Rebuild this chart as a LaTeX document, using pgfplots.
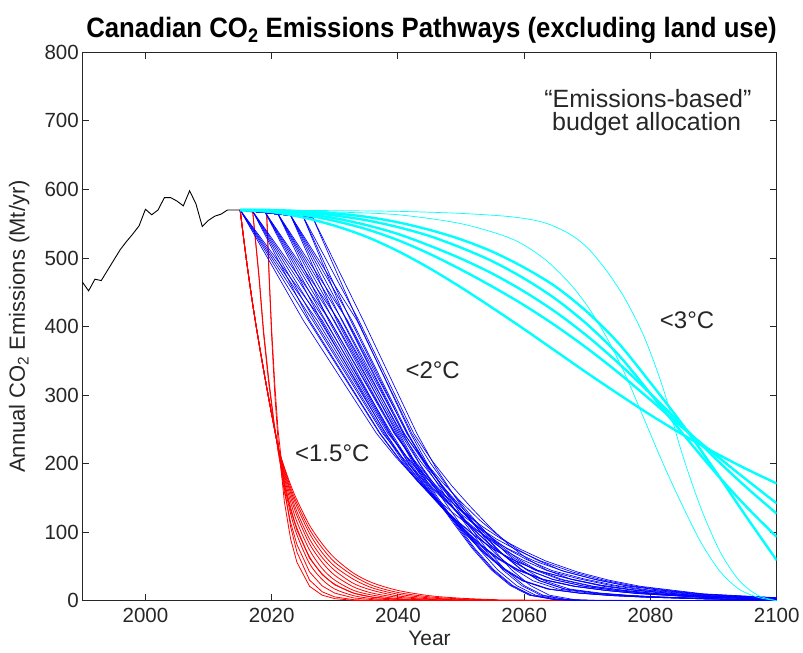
\documentclass[border=0pt]{standalone}
\usepackage{fontspec}
\setmainfont{Liberation Sans}
\usepackage{graphicx}
\usepackage{pgfplots}
\pgfplotsset{compat=1.18}
\definecolor{axgray}{RGB}{38,38,38}
\definecolor{myred}{RGB}{255,0,0}
\definecolor{myblue}{RGB}{0,0,255}
\definecolor{mycyan}{RGB}{0,255,255}
\pgfplotsset{
  rd/.style={myred, line width=0.8pt},
  bl/.style={myblue, line width=0.65pt},
  cyth/.style={mycyan, line width=2.4pt, smooth},
  cytn/.style={mycyan, line width=0.7pt, smooth},
}
\begin{document}
\begin{tikzpicture}
\useasboundingbox (-82.3pt,-52.3pt) rectangle (720.7pt,600.7pt);
\begin{axis}[
  at={(0pt,0pt)}, anchor=south west,
  scale only axis, width=694.4pt, height=548.4pt,
  xmin=1990, xmax=2100, ymin=0, ymax=800,
  xtick={2000,2020,2040,2060,2080,2100},
  ytick={0,100,200,300,400,500,600,700,800},
  scaled x ticks=false, scaled y ticks=false,
  tick align=inside, major tick length=7pt,
  axis line style={axgray, line width=0.9pt},
  every tick/.style={axgray, line width=0.9pt},
  tick label style={font=\fontsize{20.5}{24}\selectfont, text=axgray},
  /pgf/number format/assume math mode=true,
  /pgf/number format/1000 sep={},
  xticklabel style={yshift=-4pt},
  clip=true,
]
% ---------------- red: < 1.5 C ----------------
\addplot[rd, smooth] coordinates {(2015,570) (2016,497) (2017,432) (2018,375) (2019,322) (2020,272) (2021,225) (2022,169) (2023,127) (2024,96) (2026,54) (2028,31) (2030,17) (2033,7.3) (2036,3.1) (2040,1.0) (2045,0.2) (2050,0) (2100,0)};
\addplot[rd, smooth] coordinates {(2015,570) (2016,497) (2017,432) (2018,375) (2019,322) (2020,272) (2021,225) (2022,175) (2023,136) (2024,106) (2026,64) (2028,39) (2030,24) (2033,11) (2036,5.3) (2040,2.0) (2045,0.6) (2050,0.2) (2055,0) (2100,0)};
\addplot[rd, smooth] coordinates {(2015,570) (2016,497) (2017,432) (2018,375) (2019,322) (2020,272) (2021,225) (2022,180) (2023,144) (2024,115) (2026,74) (2028,47) (2030,30) (2033,15) (2036,8.1) (2040,3.1) (2045,1.1) (2050,0.3) (2055,0) (2100,0)};
\addplot[rd, smooth] coordinates {(2015,570) (2016,497) (2017,432) (2018,375) (2019,322) (2020,272) (2021,225) (2022,184) (2023,151) (2024,124) (2026,83) (2028,56) (2030,37) (2033,20) (2036,11) (2040,5) (2045,1.9) (2050,0.7) (2055,0.25) (2060,0) (2100,0)};
\addplot[rd, smooth] coordinates {(2015,570) (2016,497) (2017,432) (2018,375) (2019,322) (2020,272) (2021,225) (2022,187) (2023,157) (2024,130) (2026,90) (2028,63) (2030,44) (2033,25) (2036,15) (2040,7) (2045,2.8) (2050,1.2) (2055,0.5) (2060,0.2) (2100,0)};
\addplot[rd, smooth] coordinates {(2015,570) (2016,497) (2017,432) (2018,375) (2019,322) (2020,272) (2021,225) (2022,190) (2023,161) (2024,137) (2026,98) (2028,70) (2030,50) (2033,31) (2036,18.5) (2040,9.5) (2045,4.1) (2050,1.8) (2055,0.8) (2060,0.3) (2100,0)};
\addplot[rd, smooth] coordinates {(2015,570) (2016,497) (2017,432) (2018,375) (2019,322) (2020,272) (2021,225) (2022,193) (2023,165) (2024,142) (2026,104) (2028,77) (2030,56) (2033,36) (2036,22) (2040,12) (2045,5.6) (2050,2.6) (2055,1.2) (2060,0.55) (2100,0)};
\addplot[rd, smooth] coordinates {(2015,570) (2016,497) (2017,432) (2018,375) (2019,322) (2020,272) (2021,225) (2022,195) (2023,169) (2024,147) (2026,110) (2028,83) (2030,62) (2033,40) (2036,26) (2040,15) (2045,7.3) (2050,3.6) (2055,1.7) (2060,0.8) (2100,0)};
\addplot[rd] coordinates {(2015,570) (2017,567) (2018,470) (2018.7,390) (2019.5,320) (2020.3,262) (2021,222) (2022,159) (2023,114) (2024,82) (2026,42) (2028,21.5) (2030,11) (2033,4) (2036,1.5) (2040,0.4) (2045,0) (2100,0)};
\addplot[rd] coordinates {(2015,570) (2017,567) (2018,474) (2018.7,396) (2019.5,326) (2020.3,266) (2021,218) (2022,170) (2023,132) (2024,103) (2026,62) (2028,38) (2030,23) (2033,11) (2036,5) (2040,2) (2045,0.5) (2050,0) (2100,0)};
\addplot[rd] coordinates {(2015,570) (2019.2,566) (2019.6,470) (2020,385) (2020.5,300) (2021,235) (2022,145) (2023,90) (2024,56) (2026,21) (2028,8) (2030,3) (2033,0.5) (2036,0) (2100,0)};
\addplot[rd] coordinates {(2015,570) (2019.2,566) (2019.6,475) (2020,395) (2020.5,315) (2021,250) (2022,165) (2023,108) (2024,71) (2026,30) (2028,13) (2030,5.5) (2033,1.5) (2036,0.4) (2040,0) (2100,0)};
% ---------------- blue: < 2 C ----------------
\addplot[bl] coordinates {(2015,570) (2025.0,409) (2036.6,244) (2039.6,210) (2042.6,180) (2045.6,153) (2048.6,129) (2051.6,108) (2054.6,90) (2057.6,75) (2061.6,58) (2066.6,42) (2071.6,30) (2076.6,21) (2086.6,10) (2100.6,3.3)};
\addplot[bl] coordinates {(2015,570) (2025.8,409) (2037.1,244) (2040.1,207) (2043.1,174) (2046.1,145) (2049.1,118) (2052.1,95) (2055.1,75) (2058.1,60) (2062.1,44) (2067.1,32) (2072.1,22.5) (2077.1,16) (2087.1,7.5) (2101.1,2.5)};
\addplot[bl] coordinates {(2015,570) (2026.5,409) (2037.6,244) (2040.6,210) (2043.6,180) (2046.6,153) (2049.6,129) (2052.6,108) (2055.6,90) (2058.6,75) (2062.6,58) (2067.6,42) (2072.6,30) (2077.6,21) (2087.6,10) (2101.6,3.3)};
\addplot[bl] coordinates {(2015,570) (2027.2,409) (2038.1,244) (2041.1,203) (2044.1,168) (2047.1,137) (2050.1,108) (2053.1,82) (2056.1,61) (2059.1,45) (2063.1,31) (2068.1,21) (2073.1,15) (2078.1,10.5) (2088.1,5) (2102.1,1.7)};
\addplot[bl] coordinates {(2015,570) (2028.0,409) (2038.6,244) (2041.6,207) (2044.6,174) (2047.6,145) (2050.6,118) (2053.6,95) (2056.6,75) (2059.6,60) (2063.6,44) (2068.6,32) (2073.6,22.5) (2078.6,16) (2088.6,7.5) (2102.6,2.5)};
\addplot[bl] coordinates {(2015,570) (2017,568) (2026.0,409) (2037.2,244) (2040.2,207) (2043.2,174) (2046.2,145) (2049.2,118) (2052.2,95) (2055.2,75) (2058.2,60) (2062.2,44) (2067.2,32) (2072.2,22.5) (2077.2,16) (2087.2,7.5) (2101.2,2.5)};
\addplot[bl] coordinates {(2015,570) (2017,568) (2026.8,409) (2037.8,244) (2040.8,203) (2043.8,168) (2046.8,137) (2049.8,108) (2052.8,82) (2055.8,61) (2058.8,45) (2062.8,31) (2067.8,21) (2072.8,15) (2077.8,10.5) (2087.8,5) (2101.8,1.7)};
\addplot[bl] coordinates {(2015,570) (2017,568) (2027.6,409) (2038.4,244) (2041.4,210) (2044.4,180) (2047.4,153) (2050.4,129) (2053.4,108) (2056.4,90) (2059.4,75) (2063.4,58) (2068.4,42) (2073.4,30) (2078.4,21) (2088.4,10) (2102.4,3.3)};
\addplot[bl] coordinates {(2015,570) (2017,568) (2028.4,409) (2039.0,244) (2042.0,200) (2045.0,162) (2048.0,128) (2051.0,97) (2054.0,69) (2057.0,46) (2060.0,29) (2064.0,17) (2069.0,11) (2074.0,7.5) (2079.0,5.3) (2089.0,2.5) (2103.0,0.8)};
\addplot[bl] coordinates {(2015,570) (2017,568) (2029.2,409) (2039.6,244) (2042.6,203) (2045.6,168) (2048.6,137) (2051.6,108) (2054.6,82) (2057.6,61) (2060.6,45) (2064.6,31) (2069.6,21) (2074.6,15) (2079.6,10.5) (2089.6,5) (2103.6,1.7)};
\addplot[bl] coordinates {(2015,570) (2019,566) (2027.8,409) (2038.0,244) (2041.0,203) (2044.0,168) (2047.0,137) (2050.0,108) (2053.0,82) (2056.0,61) (2059.0,45) (2063.0,31) (2068.0,21) (2073.0,15) (2078.0,10.5) (2088.0,5) (2102.0,1.7)};
\addplot[bl] coordinates {(2015,570) (2019,566) (2028.5,409) (2038.7,244) (2041.7,200) (2044.7,162) (2047.7,128) (2050.7,97) (2053.7,69) (2056.7,46) (2059.7,29) (2063.7,17) (2068.7,11) (2073.7,7.5) (2078.7,5.3) (2088.7,2.5) (2102.7,0.8)};
\addplot[bl] coordinates {(2015,570) (2019,566) (2029.2,409) (2039.4,244) (2042.4,207) (2045.4,174) (2048.4,145) (2051.4,118) (2054.4,95) (2057.4,75) (2060.4,60) (2064.4,44) (2069.4,32) (2074.4,22.5) (2079.4,16) (2089.4,7.5) (2103.4,2.5)};
\addplot[bl] coordinates {(2015,570) (2019,566) (2029.9,409) (2040.0,244) (2043.0,194) (2046.0,152) (2049.0,113) (2052.0,76) (2055.0,45) (2058.0,22) (2061.0,8) (2065.0,1.5) (2070.0,0) (2100,0)};
\addplot[bl] coordinates {(2015,570) (2019,566) (2030.6,409) (2040.6,244) (2043.6,203) (2046.6,168) (2049.6,137) (2052.6,108) (2055.6,82) (2058.6,61) (2061.6,45) (2065.6,31) (2070.6,21) (2075.6,15) (2080.6,10.5) (2090.6,5) (2104.6,1.7)};
\addplot[bl] coordinates {(2015,570) (2021,564) (2029.0,409) (2038.8,244) (2041.8,200) (2044.8,162) (2047.8,128) (2050.8,97) (2053.8,69) (2056.8,46) (2059.8,29) (2063.8,17) (2068.8,11) (2073.8,7.5) (2078.8,5.3) (2088.8,2.5) (2102.8,0.8)};
\addplot[bl] coordinates {(2015,570) (2021,564) (2029.8,409) (2039.5,244) (2042.5,203) (2045.5,168) (2048.5,137) (2051.5,108) (2054.5,82) (2057.5,61) (2060.5,45) (2064.5,31) (2069.5,21) (2074.5,15) (2079.5,10.5) (2089.5,5) (2103.5,1.7)};
\addplot[bl] coordinates {(2015,570) (2021,564) (2030.5,409) (2040.2,244) (2043.2,194) (2046.2,152) (2049.2,113) (2052.2,76) (2055.2,45) (2058.2,22) (2061.2,8) (2065.2,1.5) (2070.2,0) (2100,0)};
\addplot[bl] coordinates {(2015,570) (2021,564) (2031.2,409) (2040.9,244) (2043.9,207) (2046.9,174) (2049.9,145) (2052.9,118) (2055.9,95) (2058.9,75) (2061.9,60) (2065.9,44) (2070.9,32) (2075.9,22.5) (2080.9,16) (2090.9,7.5) (2104.9,2.5)};
\addplot[bl] coordinates {(2015,570) (2021,564) (2032.0,409) (2041.5,244) (2044.5,200) (2047.5,162) (2050.5,128) (2053.5,97) (2056.5,69) (2059.5,46) (2062.5,29) (2066.5,17) (2071.5,11) (2076.5,7.5) (2081.5,5.3) (2091.5,2.5) (2105.5,0.8)};
\addplot[bl] coordinates {(2015,570) (2023,562) (2030.3,409) (2039.8,244) (2042.8,194) (2045.8,152) (2048.8,113) (2051.8,76) (2054.8,45) (2057.8,22) (2060.8,8) (2064.8,1.5) (2069.8,0) (2100,0)};
\addplot[bl] coordinates {(2015,570) (2023,562) (2031.1,409) (2040.4,244) (2043.4,200) (2046.4,162) (2049.4,128) (2052.4,97) (2055.4,69) (2058.4,46) (2061.4,29) (2065.4,17) (2070.4,11) (2075.4,7.5) (2080.4,5.3) (2090.4,2.5) (2104.4,0.8)};
\addplot[bl] coordinates {(2015,570) (2023,562) (2031.9,409) (2041.0,244) (2044.0,203) (2047.0,168) (2050.0,137) (2053.0,108) (2056.0,82) (2059.0,61) (2062.0,45) (2066.0,31) (2071.0,21) (2076.0,15) (2081.0,10.5) (2091.0,5) (2105.0,1.7)};
\addplot[bl] coordinates {(2015,570) (2023,562) (2032.7,409) (2041.6,244) (2044.6,194) (2047.6,152) (2050.6,113) (2053.6,76) (2056.6,45) (2059.6,22) (2062.6,8) (2066.6,1.5) (2071.6,0) (2100,0)};
\addplot[bl] coordinates {(2015,570) (2023,562) (2033.5,409) (2042.2,244) (2045.2,200) (2048.2,162) (2051.2,128) (2054.2,97) (2057.2,69) (2060.2,46) (2063.2,29) (2067.2,17) (2072.2,11) (2077.2,7.5) (2082.2,5.3) (2092.2,2.5) (2106.2,0.8)};
\addplot[bl] coordinates {(2015,570) (2025,560) (2031.8,409) (2040.8,244) (2043.8,194) (2046.8,152) (2049.8,113) (2052.8,76) (2055.8,45) (2058.8,22) (2061.8,8) (2065.8,1.5) (2070.8,0) (2100,0)};
\addplot[bl] coordinates {(2015,570) (2025,560) (2032.5,409) (2041.4,244) (2044.4,200) (2047.4,162) (2050.4,128) (2053.4,97) (2056.4,69) (2059.4,46) (2062.4,29) (2066.4,17) (2071.4,11) (2076.4,7.5) (2081.4,5.3) (2091.4,2.5) (2105.4,0.8)};
\addplot[bl] coordinates {(2015,570) (2026.5,559) (2033.6,409) (2042.0,244) (2045.0,194) (2048.0,152) (2051.0,113) (2054.0,76) (2057.0,45) (2060.0,22) (2063.0,8) (2067.0,1.5) (2072.0,0) (2100,0)};
\addplot[bl] coordinates {(2015,570) (2025,560) (2033.8,409) (2042.5,244) (2045.5,203) (2048.5,168) (2051.5,137) (2054.5,108) (2057.5,82) (2060.5,61) (2063.5,45) (2067.5,31) (2072.5,21) (2077.5,15) (2082.5,10.5) (2092.5,5) (2106.5,1.7)};
\addplot[bl] coordinates {(2015,570) (2026.5,559) (2034.5,409) (2043.0,244) (2046.0,194) (2049.0,152) (2052.0,113) (2055.0,76) (2058.0,45) (2061.0,22) (2064.0,8) (2068.0,1.5) (2073.0,0) (2100,0)};
% ---------------- cyan: < 3 C ----------------
\addplot[cyth] coordinates {(2015,570) (2020,567) (2025,559) (2030,547) (2035,531) (2040,510) (2045,485) (2050,457) (2055,427) (2060,396) (2065,364) (2070,332) (2075,301) (2080,271) (2085,243) (2090,217) (2095,193) (2100,171)};
\addplot[cyth] coordinates {(2015,570) (2020,568) (2025,563) (2030,554) (2035,542) (2040,526) (2045,506) (2050,483) (2055,458) (2060,431) (2065,401) (2070,368) (2075,332) (2080,293) (2085,253) (2090,215) (2095,178) (2100,142)};
\addplot[cyth] coordinates {(2015,570) (2020,569) (2025,565) (2030,558) (2035,548) (2040,535) (2045,518) (2050,499) (2055,477) (2060,451) (2065,421) (2070,386) (2075,346) (2080,302) (2085,256) (2090,210) (2095,167) (2100,127)};
\addplot[cyth] coordinates {(2015,570) (2020,569.5) (2025,567) (2030,562) (2035,555) (2040,545) (2045,532) (2050,515) (2055,495) (2060,470) (2065,440) (2070,403) (2075,358) (2080,302) (2085,245) (2090,190) (2095,139) (2100,93)};
\addplot[cyth] coordinates {(2015,570) (2020,570) (2025,568) (2030,565) (2035,560) (2040,552) (2045,541) (2050,527) (2055,509) (2060,486) (2065,458) (2070,421) (2075,375) (2080,318) (2085,258) (2090,193) (2095,125) (2100,59)};
\addplot[cytn] coordinates {(2015,570) (2030,569) (2040,568) (2050,565) (2058,560) (2063,552) (2067,536) (2070,515) (2073,482) (2076,440) (2079,385) (2082,310) (2085,215) (2088,135) (2091,72) (2094,30) (2097,8) (2100,0)};
\addplot[cytn] coordinates {(2015,570) (2030,567) (2040,563) (2050,550) (2058,528) (2063,500) (2067,465) (2070,430) (2073,385) (2076,330) (2079,265) (2082,200) (2085,140) (2088,85) (2091,43) (2094,17) (2097,5) (2100,0)};
% ---------------- historical ----------------
\addplot[black, line width=0.9pt] coordinates {(1990,465) (1991,452) (1992,469) (1993,467) (1994,482) (1995,497) (1996,512) (1997,524) (1998,535) (1999,547) (2000,571) (2001,563) (2002,570) (2003,588) (2004,588) (2005,583) (2006,576) (2007,598) (2008,579) (2009,546) (2010,555) (2011,561) (2012,564) (2013,570) (2014,570) (2015,570)};
% ---------------- annotations ----------------
\node[anchor=base, font=\fontsize{24}{28}\selectfont, text=axgray] at (axis cs:2029.6,202.8) {<1.5°C};
\node[anchor=base, font=\fontsize{24}{28}\selectfont, text=axgray] at (axis cs:2045.5,324.4) {<2°C};
\node[anchor=base, font=\fontsize{24}{28}\selectfont, text=axgray] at (axis cs:2085.8,397.4) {<3°C};
\node[anchor=base, font=\fontsize{25}{29}\selectfont, text=axgray] at (axis cs:2079.6,719.8) {“Emissions-based”};
\node[anchor=base, font=\fontsize{25}{29}\selectfont, text=axgray] at (axis cs:2079.4,685.6) {budget allocation};
\end{axis}
\node[anchor=base, font=\bfseries\fontsize{28}{32}\selectfont] at (349.2pt,563pt) {\scalebox{0.92}[1]{Canadian CO\textsubscript{2} Emissions Pathways (excluding land use)}};
\node[anchor=base, rotate=90, font=\fontsize{22}{26}\selectfont, text=axgray] at (-57.3pt,274.2pt) {Annual CO\textsubscript{2} Emissions (Mt/yr)};
\node[anchor=base, font=\fontsize{21}{25}\selectfont, text=axgray] at (347.2pt,-45pt) {Year};
\end{tikzpicture}
\end{document}
